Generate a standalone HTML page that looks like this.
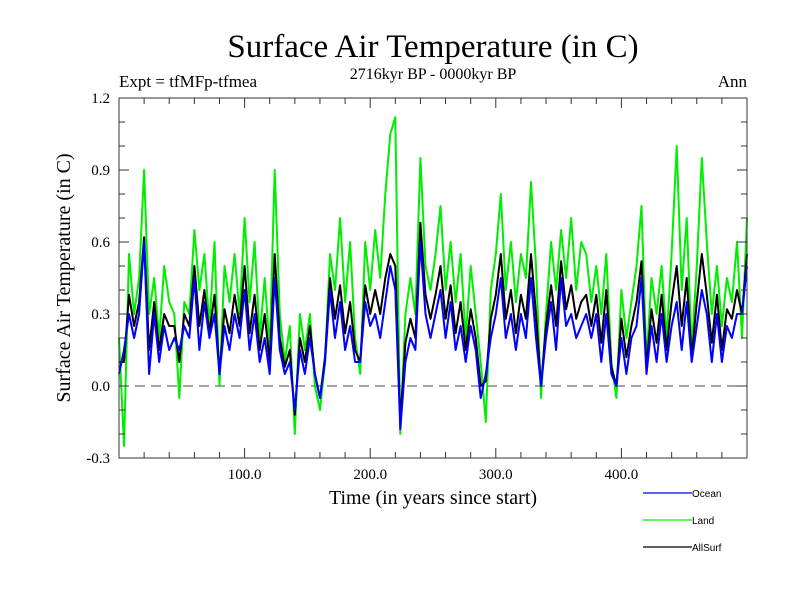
<!DOCTYPE html>
<html><head><meta charset="utf-8"><style>
html,body{margin:0;padding:0;background:#fff;}
svg{display:block;font-family:"Liberation Serif",serif;}
</style></head><body>
<svg id="chart" width="800" height="600" viewBox="0 0 800 600" xmlns="http://www.w3.org/2000/svg">
<text x="433" y="57" font-size="33" text-anchor="middle">Surface Air Temperature (in C)</text>
<text x="433" y="79" font-size="16" text-anchor="middle">2716kyr BP - 0000kyr BP</text>
<text x="119" y="87" font-size="17">Expt = tfMFp-tfmea</text>
<text x="747" y="87" font-size="17" text-anchor="end">Ann</text>
<text x="433" y="504" font-size="20" text-anchor="middle">Time (in years since start)</text>
<text transform="translate(70,278) rotate(-90)" font-size="20" text-anchor="middle">Surface Air Temperature (in C)</text>
<g id="plot"></g>
<g id="legend"></g>
</svg>
<script>
const years = [];
for (let y = 0; y <= 500; y += 4) years.push(y);
const landValues = [0.2,-0.25,0.55,0.3,0.45,0.9,0.3,0.45,0.2,0.5,0.35,0.3,-0.05,0.35,0.3,0.65,0.4,0.55,0.25,0.6,0.0,0.5,0.35,0.55,0.3,0.7,0.35,0.6,0.2,0.45,0.15,0.9,
0.3,0.1,0.25,-0.2,0.3,0.15,0.3,0.0,-0.1,0.1,0.55,0.4,0.7,0.35,0.6,0.2,0.05,0.6,0.4,0.65,0.45,0.8,1.05,1.12,-0.2,0.3,0.45,0.3,0.95,0.5,0.4,
0.55,0.75,0.4,0.6,0.35,0.55,0.2,0.5,0.3,0.1,-0.15,0.4,0.55,0.8,0.4,0.6,0.35,0.55,0.45,0.85,0.5,-0.05,0.3,0.6,0.4,0.65,0.45,0.7,0.4,0.6,0.55,
0.35,0.5,0.3,0.55,0.1,-0.05,0.4,0.2,0.35,0.5,0.75,0.1,0.45,0.3,0.5,0.2,0.55,1.0,0.4,0.7,0.15,0.5,0.95,0.6,0.3,0.5,0.25,0.45,0.35,0.6,0.2,0.7];
const oceanValues = [0.05,0.15,0.3,0.2,0.3,0.6,0.05,0.3,0.1,0.25,0.15,0.2,0.15,0.25,0.2,0.45,0.15,0.35,0.2,0.3,0.05,0.25,0.15,0.3,0.2,0.4,0.15,0.3,0.1,0.2,0.05,0.45,
0.15,0.05,0.1,-0.1,0.15,0.05,0.2,0.05,-0.05,0.1,0.4,0.2,0.35,0.15,0.25,0.1,0.1,0.35,0.25,0.3,0.2,0.35,0.5,0.4,-0.18,0.1,0.2,0.15,0.6,0.3,0.2,
0.3,0.4,0.2,0.35,0.15,0.25,0.1,0.25,0.15,-0.05,0.05,0.2,0.3,0.45,0.2,0.3,0.15,0.3,0.2,0.45,0.2,0.0,0.2,0.35,0.15,0.45,0.25,0.3,0.2,0.25,0.3,
0.2,0.3,0.1,0.3,0.05,0.0,0.2,0.05,0.2,0.25,0.45,0.05,0.25,0.1,0.3,0.1,0.25,0.35,0.15,0.35,0.1,0.25,0.4,0.3,0.1,0.3,0.1,0.25,0.2,0.3,0.3,0.5];
const allSurfValues = [0.1,0.1,0.38,0.25,0.35,0.62,0.15,0.35,0.15,0.3,0.25,0.25,0.1,0.3,0.25,0.5,0.25,0.4,0.22,0.38,0.05,0.32,0.22,0.38,0.25,0.5,0.22,0.38,0.15,0.3,0.1,0.55,
0.2,0.08,0.15,-0.12,0.2,0.1,0.25,0.05,-0.05,0.12,0.45,0.28,0.42,0.22,0.35,0.15,0.1,0.42,0.3,0.4,0.3,0.45,0.55,0.5,-0.15,0.18,0.28,0.2,0.68,0.38,0.28,
0.38,0.5,0.28,0.42,0.22,0.35,0.15,0.32,0.2,0.0,0.02,0.28,0.38,0.55,0.28,0.4,0.22,0.38,0.28,0.55,0.3,0.0,0.25,0.42,0.25,0.52,0.32,0.42,0.28,0.35,0.38,
0.25,0.38,0.18,0.4,0.08,0.0,0.28,0.12,0.25,0.35,0.52,0.08,0.32,0.18,0.38,0.15,0.35,0.5,0.25,0.45,0.12,0.35,0.55,0.38,0.18,0.38,0.15,0.32,0.28,0.4,0.3,0.55];
const yTickValues = [-0.3,0.0,0.3,0.6,0.9,1.2];
const yTickLabels = ["-0.3","0.0","0.3","0.6","0.9","1.2"];
const xTickValues = [100,200,300,400];
const xTickLabels = ["100.0","200.0","300.0","400.0"];

const L=119,R=747,T=98,B=458;
const xMin=0,xMax=500,yMin=-0.3,yMax=1.2;
const xs=v=>L+(v-xMin)/(xMax-xMin)*(R-L);
const ys=v=>B-(v-yMin)/(yMax-yMin)*(B-T);
const NS="http://www.w3.org/2000/svg";
const plot=document.getElementById('plot');
function mk(tag,attrs,parent){const e=document.createElementNS(NS,tag);for(const k in attrs)e.setAttribute(k,attrs[k]);(parent||plot).appendChild(e);return e;}

const zl=mk('line',{x1:L,x2:R,y1:ys(0),y2:ys(0),stroke:'#444','stroke-width':1,'stroke-dasharray':'10,6'});



function series(vals,color,name){
  const d=vals.map((v,i)=>(i?'L':'M')+xs(years[i]).toFixed(1)+','+ys(v).toFixed(1)).join('');
  const p=mk('path',{d:d,fill:'none',stroke:color,'stroke-width':2,'stroke-linejoin':'round'});
  
  
}
series(landValues,'#00ee00','land-series');
series(allSurfValues,'#000000','allsurf-series');
series(oceanValues,'#0000ff','ocean-series');

const fr=mk('rect',{x:L,y:T,width:R-L,height:B-T,fill:'none',stroke:'#333','stroke-width':1});



for(let v=-3;v<=12;v++){
  const val=v/10,y=ys(val),major=(v%3===0),len=major?10:6;
  mk('line',{x1:L,x2:L+len,y1:y,y2:y,stroke:'#333'});
  mk('line',{x1:R,x2:R-len,y1:y,y2:y,stroke:'#333'});
}
yTickValues.forEach((v,i)=>{
  const t=mk('text',{x:L-9,y:ys(v)+5,'font-size':15,'text-anchor':'end'});
  t.textContent=yTickLabels[i];
  
  
});
for(let v=20;v<500;v+=20){
  const x=xs(v),major=(v%100===0),len=major?10:6;
  mk('line',{x1:x,x2:x,y1:B,y2:B-len,stroke:'#333'});
  mk('line',{x1:x,x2:x,y1:T,y2:T+len,stroke:'#333'});
}
xTickValues.forEach((v,i)=>{
  const t=mk('text',{x:xs(v),y:B+21,'font-size':15,'text-anchor':'middle'});
  t.textContent=xTickLabels[i];
  
  
});

const lg=document.getElementById('legend');
const legendNames=["Ocean","Land","AllSurf"];
const legendColors=["#0000ff","#00ee00","#000000"];
legendNames.forEach((n,i)=>{
  const y=493+i*27;
  mk('line',{x1:643,x2:692,y1:y,y2:y,stroke:legendColors[i],'stroke-width':1.3},lg);
  const t=mk('text',{x:692,y:y+4,'font-size':10,'font-family':'Liberation Sans, sans-serif'},lg);
  t.textContent=n;
  
  
});
</script>
</body></html>
